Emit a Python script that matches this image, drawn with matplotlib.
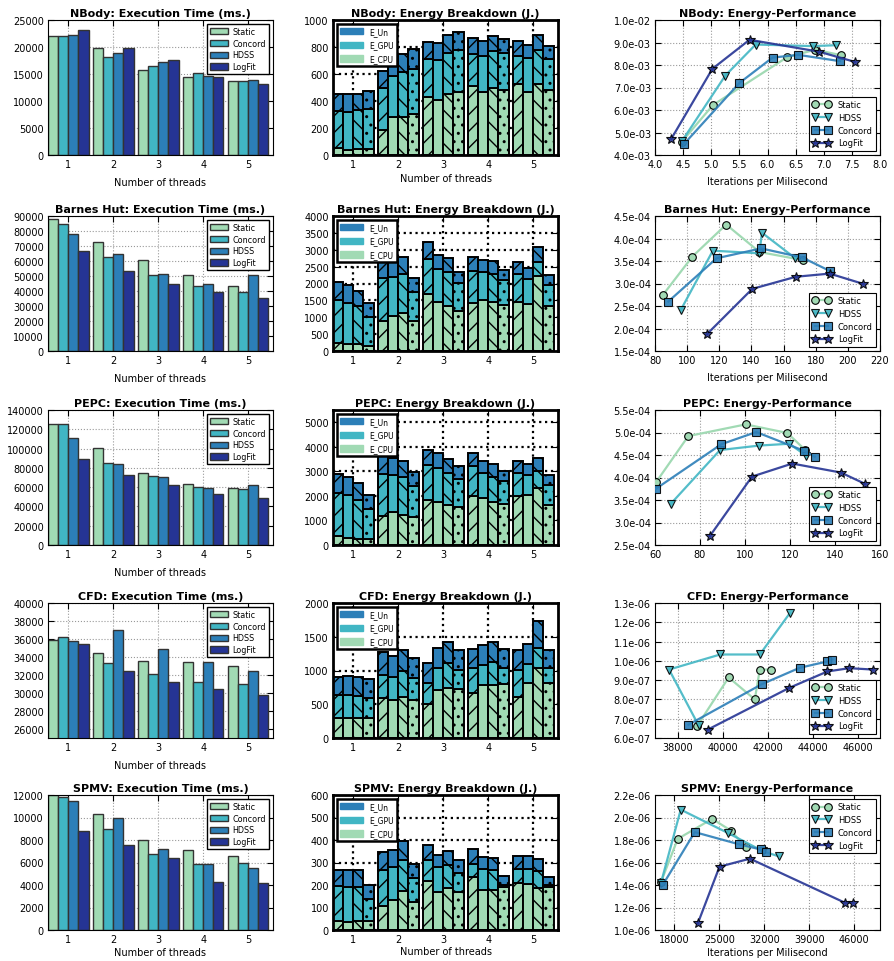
import matplotlib
matplotlib.use("Agg")
import matplotlib.pyplot as plt
from matplotlib.patches import Patch
from matplotlib.ticker import FormatStrFormatter, MultipleLocator
import numpy as np

apps = ["NBody", "Barnes Hut", "PEPC", "CFD", "SPMV"]
threads = [1, 2, 3, 4, 5]
bar_scheds = ["Static", "Concord", "HDSS", "LogFit"]
line_scheds = ["Static", "HDSS", "Concord", "LogFit"]
pal = ["#a1dab4", "#41b6c4", "#2c7fb8", "#253494"]

# ---- execution time (ms.), one list per scheduler, threads 1..5
time_nbody = {"Static": [22000, 19800, 15700, 14500, 13700],
              "Concord": [22000, 18100, 16400, 15200, 13700],
              "HDSS": [22200, 18900, 17200, 14600, 13900],
              "LogFit": [23200, 19900, 17600, 14400, 13200]}
time_barnes = {"Static": [88000, 72500, 60500, 51000, 43500],
               "Concord": [85000, 63000, 51000, 43500, 39500],
               "HDSS": [78000, 64500, 51500, 44500, 51000],
               "LogFit": [66500, 53500, 44500, 39500, 35500]}
time_pepc = {"Static": [125000, 100500, 75000, 63000, 59500],
             "Concord": [125000, 85000, 72000, 60000, 58000],
             "HDSS": [111000, 84500, 71000, 59000, 62500],
             "LogFit": [89000, 73000, 62000, 52500, 49000]}
time_cfd = {"Static": [35900, 34500, 33600, 33400, 33000],
            "Concord": [36200, 33300, 32100, 31200, 31000],
            "HDSS": [35800, 37000, 34900, 33400, 32400],
            "LogFit": [35400, 32400, 31200, 30500, 29800]}
time_spmv = {"Static": [12000, 10300, 8000, 7100, 6600],
             "Concord": [11800, 9000, 6800, 5900, 6000],
             "HDSS": [11500, 10000, 7200, 5900, 5500],
             "LogFit": [8800, 7600, 6400, 4300, 4200]}

# ---- energy breakdown (J.): E_CPU, E_GPU, E_Un per scheduler, threads 1..5
cpu_nbody = {"Static": [50, 188, 427, 511, 529], "Concord": [40, 280, 409, 465, 470],
             "HDSS": [45, 285, 452, 494, 525], "LogFit": [45, 305, 464, 485, 480]}
gpu_nbody = {"Static": [278, 308, 285, 238, 208], "Concord": [280, 308, 296, 267, 245],
             "HDSS": [290, 328, 305, 275, 255], "LogFit": [297, 333, 313, 267, 232]}
un_nbody = {"Static": [127, 124, 124, 117, 109], "Concord": [130, 132, 126, 114, 101],
            "HDSS": [120, 137, 134, 112, 106], "LogFit": [129, 149, 136, 104, 99]}

cpu_barnes = {"Static": [230, 900, 1700, 1420, 1440], "Concord": [200, 1050, 1450, 1520, 1400],
              "HDSS": [200, 1130, 1340, 1460, 2220], "LogFit": [150, 880, 1200, 1370, 1340]}
gpu_barnes = {"Static": [1290, 1250, 1030, 950, 840], "Concord": [1220, 1150, 990, 810, 730],
              "HDSS": [1130, 1150, 1010, 820, 430], "LogFit": [850, 870, 810, 730, 620]}
un_barnes = {"Static": [530, 550, 490, 420, 360], "Concord": [530, 480, 400, 370, 330],
             "HDSS": [460, 500, 410, 390, 430], "LogFit": [410, 410, 340, 300, 280]}

cpu_pepc = {"Static": [350, 1200, 1830, 2000, 1980], "Concord": [280, 1330, 1770, 1900, 2030],
            "HDSS": [250, 1230, 1620, 1770, 2330], "LogFit": [230, 1150, 1550, 1690, 1640]}
gpu_pepc = {"Static": [1780, 1700, 1420, 1200, 970], "Concord": [1750, 1540, 1350, 1020, 810],
            "HDSS": [1580, 1530, 1300, 1020, 670], "LogFit": [1240, 1250, 1120, 930, 800]}
un_pepc = {"Static": [750, 770, 630, 530, 490], "Concord": [750, 670, 630, 500, 460],
           "HDSS": [700, 670, 600, 530, 550], "LogFit": [550, 560, 540, 410, 420]}

cpu_cfd = {"Static": [300, 590, 500, 660, 610], "Concord": [300, 570, 710, 790, 820],
           "HDSS": [300, 610, 740, 790, 1030], "LogFit": [290, 560, 720, 800, 820]}
gpu_cfd = {"Static": [330, 350, 320, 370, 400], "Concord": [330, 340, 330, 290, 270],
           "HDSS": [320, 390, 370, 330, 300], "LogFit": [310, 330, 290, 230, 210]}
un_cfd = {"Static": [280, 330, 290, 290, 300], "Concord": [290, 300, 290, 300, 300],
          "HDSS": [280, 310, 310, 300, 400], "LogFit": [280, 290, 300, 290, 280]}

cpu_spmv = {"Static": [40, 105, 220, 235, 210], "Concord": [35, 135, 168, 180, 205],
            "HDSS": [38, 175, 188, 178, 185], "LogFit": [38, 125, 168, 190, 190]}
gpu_spmv = {"Static": [155, 160, 90, 60, 60], "Concord": [155, 145, 110, 92, 67],
            "HDSS": [152, 135, 102, 87, 77], "LogFit": [102, 105, 87, 10, 10]}
un_spmv = {"Static": [73, 80, 70, 65, 60], "Concord": [75, 75, 57, 51, 56],
           "HDSS": [75, 85, 62, 57, 53], "LogFit": [58, 65, 55, 38, 37]}

# ---- energy-performance: (iterations per ms, energy per iteration)
ep_x_nbody = {"Static": [4.48, 5.03, 6.35, 6.85, 7.3], "HDSS": [4.48, 5.25, 5.79, 6.8, 7.22],
              "Concord": [4.52, 5.5, 6.09, 6.55, 7.29], "LogFit": [4.29, 5.02, 5.68, 6.92, 7.55]}
ep_y_nbody = {"Static": [4.6e-3, 6.22e-3, 8.35e-3, 8.68e-3, 8.44e-3],
              "HDSS": [4.62e-3, 7.53e-3, 8.91e-3, 8.84e-3, 8.88e-3],
              "Concord": [4.5e-3, 7.2e-3, 8.33e-3, 8.45e-3, 8.17e-3],
              "LogFit": [4.72e-3, 7.83e-3, 9.12e-3, 8.59e-3, 8.14e-3]}
ep_x_barnes = {"Static": [84.8, 103.3, 124.3, 145, 172], "HDSS": [96, 116, 145, 146.5, 167.3],
               "Concord": [88.3, 118.3, 146, 171.5, 188.7], "LogFit": [112.2, 140.5, 167.7, 188.7, 209.7]}
ep_y_barnes = {"Static": [2.74e-4, 3.6e-4, 4.31e-4, 3.7e-4, 3.52e-4],
               "HDSS": [2.41e-4, 3.73e-4, 3.67e-4, 4.13e-4, 3.56e-4],
               "Concord": [2.6e-4, 3.56e-4, 3.78e-4, 3.58e-4, 3.28e-4],
               "LogFit": [1.87e-4, 2.88e-4, 3.15e-4, 3.22e-4, 2.99e-4]}
ep_x_pepc = {"Static": [60.4, 74.8, 100.3, 118.8, 126.8], "HDSS": [67.1, 88.9, 106.4, 119.7, 127.3],
             "Concord": [60.4, 89.5, 105, 126.4, 131], "LogFit": [84.4, 103.1, 121, 142.6, 153.3]}
ep_y_pepc = {"Static": [3.89e-4, 4.92e-4, 5.18e-4, 4.99e-4, 4.61e-4],
             "HDSS": [3.42e-4, 4.61e-4, 4.71e-4, 4.75e-4, 4.48e-4],
             "Concord": [3.75e-4, 4.74e-4, 5.01e-4, 4.59e-4, 4.46e-4],
             "LogFit": [2.7e-4, 4.02e-4, 4.31e-4, 4.11e-4, 3.86e-4]}
ep_x_cfd = {"Static": [38860, 40274, 41435, 41658, 42164], "HDSS": [38935, 37625, 39900, 41658, 42997],
            "Concord": [38488, 41747, 43429, 44664, 44887], "LogFit": [39336, 42967, 44664, 45631, 46673]}
ep_y_cfd = {"Static": [6.6e-7, 9.14e-7, 8.0e-7, 9.55e-7, 9.55e-7],
            "HDSS": [6.66e-7, 9.55e-7, 1.033e-6, 1.033e-6, 1.248e-6],
            "Concord": [6.69e-7, 8.79e-7, 9.64e-7, 9.97e-7, 1.007e-6],
            "LogFit": [6.43e-7, 8.6e-7, 9.45e-7, 9.62e-7, 9.55e-7]}
ep_x_spmv = {"Static": [15936, 18536, 23892, 26804, 29093], "HDSS": [15936, 19004, 26284, 31800, 34293],
             "Concord": [16196, 21188, 28000, 31432, 32212], "LogFit": [21656, 25036, 29768, 44484, 45732]}
ep_y_spmv = {"Static": [1.427e-6, 1.81e-6, 1.988e-6, 1.884e-6, 1.737e-6],
             "HDSS": [1.42e-6, 2.07e-6, 1.864e-6, 1.70e-6, 1.654e-6],
             "Concord": [1.40e-6, 1.87e-6, 1.763e-6, 1.716e-6, 1.693e-6],
             "LogFit": [1.058e-6, 1.563e-6, 1.634e-6, 1.244e-6, 1.244e-6]}

times = [time_nbody, time_barnes, time_pepc, time_cfd, time_spmv]
cpus = [cpu_nbody, cpu_barnes, cpu_pepc, cpu_cfd, cpu_spmv]
gpus = [gpu_nbody, gpu_barnes, gpu_pepc, gpu_cfd, gpu_spmv]
uns = [un_nbody, un_barnes, un_pepc, un_cfd, un_spmv]
ep_xs = [ep_x_nbody, ep_x_barnes, ep_x_pepc, ep_x_cfd, ep_x_spmv]
ep_ys = [ep_y_nbody, ep_y_barnes, ep_y_pepc, ep_y_cfd, ep_y_spmv]

# axis ranges (style, not data)
time_lims = [(0, 25000, 5000), (0, 90000, 10000), (0, 140000, 20000), (25000, 40000, 2000), (0, 12000, 2000)]
energy_lims = [(0, 1000, 200), (0, 4000, 500), (0, 5500, 1000), (0, 2000, 500), (0, 600, 100)]
ep_xlims = [(4.0, 8.0, 0.5), (80, 220, 20), (60, 160, 20), (37000, 47000, 2000), (15000, 50000, 7000)]
ep_ylims = [(4e-3, 1e-2, 1e-3), (1.5e-4, 4.5e-4, 0.5e-4), (2.5e-4, 5.5e-4, 0.5e-4),
            (6e-7, 1.3e-6, 1e-7), (1e-6, 2.2e-6, 2e-7)]
ep_legend_loc = ["lower right", "lower right", "lower right", "lower right", "upper right"]
mid_xlabel = [True, False, False, False, True]
right_xlabel = [True, True, False, False, True]
left_pad = [6, 6, 6, 6, 2]
mid_pad = [3, 3, 3, 3, 1]
right_pad = [5, 5, 5, 5, 2]
hatches = ["//", "", "\\\\", ".."]
markers = {"Static": "o", "HDSS": "v", "Concord": "s", "LogFit": "*"}
msizes = {"Static": 5.5, "HDSS": 6, "Concord": 6, "LogFit": 7}

plt.rcParams["hatch.linewidth"] = 1.0
plt.rcParams["hatch.color"] = "black"
plt.rcParams["font.family"] = "DejaVu Sans"

W, H = 894, 962
fig = plt.figure(figsize=(W / 100, H / 100), dpi=100)
row_top = [21, 217, 411, 604, 796]
col_left = [48, 333, 655]
aw, ah = 225, 135


def make_ax(r, c):
    return fig.add_axes([col_left[c] / W, 1 - (row_top[r] + ah) / H, aw / W, ah / H])


def style_ticks(ax):
    ax.tick_params(direction="in", top=True, right=True, labelsize=7, length=4, pad=3)


x = np.array(threads, dtype=float)
bw = 0.225
offs = np.arange(4) * bw - 0.45

for r, app in enumerate(apps):
    # --- execution time
    ax = make_ax(r, 0)
    for j, s in enumerate(bar_scheds):
        ax.bar(x + offs[j], times[r][s], width=bw, align="edge", color=pal[j],
               edgecolor="#333333", linewidth=1.0, label=s, zorder=2)
    lo, hi, st = time_lims[r]
    ax.set_ylim(lo, hi)
    ax.set_yticks(np.arange(lo if lo == 0 else lo + st / 2, hi + 1, st))
    ax.set_xlim(0.55, 5.55)
    ax.set_xticks(threads)
    ax.grid(True, color="#999999", linestyle=":", linewidth=0.8)
    ax.set_axisbelow(True)
    style_ticks(ax)
    ax.set_title(f"{app}: Execution Time (ms.)", fontsize=8, fontweight="bold", pad=3)
    ax.set_xlabel("Number of threads", fontsize=7, labelpad=left_pad[r])
    leg = ax.legend(loc="upper right", fontsize=5.8, handlelength=2.2, handleheight=0.8,
                    fancybox=False, borderpad=0.35, labelspacing=0.35, handletextpad=0.6,
                    framealpha=1.0)
    leg.get_frame().set_edgecolor("black")
    leg.get_frame().set_linewidth(1.0)

    # --- energy breakdown
    ax = make_ax(r, 1)
    for j, s in enumerate(bar_scheds):
        c = np.array(cpus[r][s], dtype=float)
        g = np.array(gpus[r][s], dtype=float)
        u = np.array(uns[r][s], dtype=float)
        kw = dict(width=bw, align="edge", edgecolor="black", linewidth=1.4, hatch=hatches[j], zorder=2)
        ax.bar(x + offs[j], c, color=pal[0], **kw)
        ax.bar(x + offs[j], g, bottom=c, color=pal[1], **kw)
        ax.bar(x + offs[j], u, bottom=c + g, color=pal[2], **kw)
    lo, hi, st = energy_lims[r]
    ax.set_ylim(lo, hi)
    ax.yaxis.set_major_locator(MultipleLocator(st))
    ax.set_xlim(0.55, 5.55)
    ax.set_xticks(threads)
    ax.grid(True, color="black", linestyle=":", linewidth=1.6)
    ax.set_axisbelow(True)
    for sp in ax.spines.values():
        sp.set_linewidth(2.0)
    style_ticks(ax)
    ax.set_title(f"{app}: Energy Breakdown (J.)", fontsize=8, fontweight="bold", pad=3)
    if mid_xlabel[r]:
        ax.set_xlabel("Number of threads", fontsize=7, labelpad=mid_pad[r])
    handles = [Patch(facecolor=pal[2], edgecolor=pal[2], hatch="..", label="E_Un"),
               Patch(facecolor=pal[1], edgecolor=pal[1], hatch="..", label="E_GPU"),
               Patch(facecolor=pal[0], edgecolor=pal[0], hatch="..", label="E_CPU")]
    leg = ax.legend(handles=handles, loc="upper left", fontsize=5.5, handlelength=3.0,
                    handleheight=0.9, fancybox=False, borderpad=0.4, labelspacing=0.6,
                    framealpha=1.0)
    leg.get_frame().set_edgecolor("black")
    leg.get_frame().set_linewidth(1.8)

    # --- energy-performance
    ax = make_ax(r, 2)
    for j, s in enumerate(line_scheds):
        ax.plot(ep_xs[r][s], ep_ys[r][s], color=pal[j], linewidth=1.6, marker=markers[s],
                markersize=msizes[s], markerfacecolor=pal[j], markeredgecolor="black",
                markeredgewidth=0.8, label=s, zorder=3,
                alpha=0.9 if s != "Static" else 1.0)
    xlo, xhi, xst = ep_xlims[r]
    ylo, yhi, yst = ep_ylims[r]
    ax.set_xlim(xlo, xhi)
    ax.set_ylim(ylo, yhi)
    if r == 3:
        ax.set_xticks(np.arange(38000, 46001, 2000))
    elif r == 4:
        ax.set_xticks(np.arange(18000, 46001, 7000))
    else:
        ax.xaxis.set_major_locator(MultipleLocator(xst))
    ax.set_yticks(np.arange(ylo, yhi + yst / 2, yst))
    ax.yaxis.set_major_formatter(FormatStrFormatter("%.1e"))
    if r == 0:
        ax.xaxis.set_major_formatter(FormatStrFormatter("%.1f"))
    ax.grid(True, color="#999999", linestyle=":", linewidth=0.8)
    ax.set_axisbelow(True)
    style_ticks(ax)
    ax.set_title(f"{app}: Energy-Performance", fontsize=8, fontweight="bold", pad=3)
    if right_xlabel[r]:
        ax.set_xlabel("Iterations per Milisecond", fontsize=7, labelpad=right_pad[r])
    leg = ax.legend(loc=ep_legend_loc[r], fontsize=6, numpoints=2, handlelength=2.2,
                    fancybox=False, borderpad=0.4, labelspacing=0.45, framealpha=1.0)
    leg.get_frame().set_edgecolor("black")
    leg.get_frame().set_linewidth(0.8)

fig.savefig("out.png", dpi=100)
